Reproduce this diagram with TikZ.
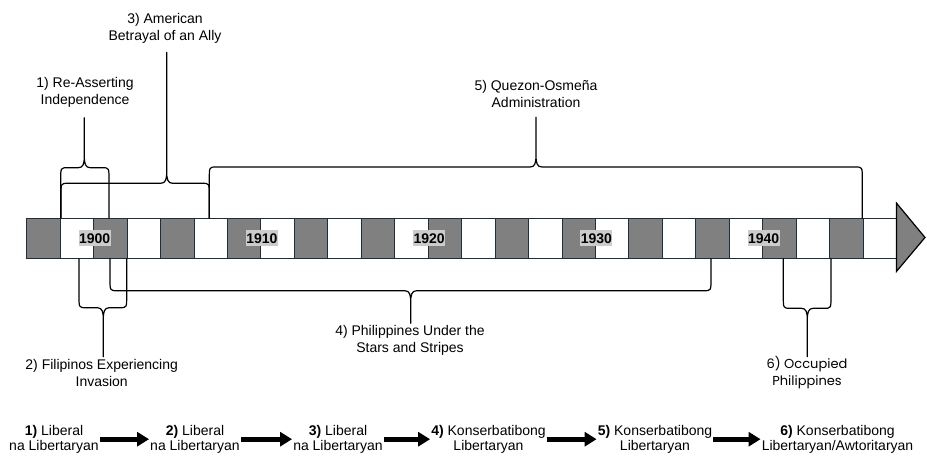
\documentclass[tikz,border=0pt]{standalone}
\usepackage{fontspec}
\setmainfont{Liberation Sans}
\newfontfamily\occfont{Poppins}
\usetikzlibrary{arrows.meta}
\definecolor{barline}{HTML}{1F2D3D}
\definecolor{barfill}{HTML}{808080}
\definecolor{yearfill}{HTML}{CCCCCC}
\newcommand{\periodbrace}[7]{%
  \draw[brace] (#1,#4) -- (#1,{#5-(#6)*12}) .. controls (#1,#5) .. ({#1+7},#5)
    -- ({#3-6},#5) .. controls ({#3-1},#5) and (#3,{#5+(#6)*4}) .. (#3,{#5+(#6)*12}) -- (#7)
    -- (#3,{#5+(#6)*12}) .. controls (#3,{#5+(#6)*4}) and ({#3+1},#5) .. ({#3+6},#5)
    -- ({#2-7},#5) .. controls (#2,#5) .. (#2,{#5-(#6)*12}) -- (#2,#4);}

\begin{document}
\begin{tikzpicture}[x=1pt,y=-1pt]
\tikzset{cell/.style={draw=barline, line width=0.8pt, minimum width=33.45pt, minimum height=40pt, inner sep=0pt, outer sep=0pt}}
\tikzset{year/.style={fill=yearfill, font=\fontsize{14}{17}\selectfont\bfseries, inner xsep=0.5pt, inner ysep=3pt, text height=10pt, text depth=0pt}}
\tikzset{period/.style={align=center, font=\fontsize{14}{17}\selectfont}}
\tikzset{stance/.style={align=center, font=\fontsize{14}{15}\selectfont, inner sep=1pt}}
\tikzset{brace/.style={line width=1.2pt, line join=round}}
\tikzset{stancearrow/.style={line width=5pt, -{Triangle[length=12pt,width=14pt]}}}
\useasboundingbox (0,0) rectangle (927,456);
\foreach \i in {0,2,...,24} \node[cell, fill=barfill] (c\i) at ({43.425+33.45*\i},238.3) {};
\foreach \i in {1,3,...,25} \node[cell, fill=white] (c\i) at ({43.425+33.45*\i},238.3) {};
\foreach \yr/\k in {1900/2,1910/7,1920/12,1930/17,1940/22} \node[year] (y\yr) at ([xshift=1pt]c\k.west) {\yr};
\draw[fill=barfill, line width=1.2pt] (896.4,203) -- (925,237.5) -- (896.4,271.5) -- cycle;
\coordinate (tip1) at (84.3,117.7);
\coordinate (tip3) at (166.7,52.3);
\coordinate (tip5) at (536,117.3);
\coordinate (tip2) at (103.3,356.7);
\coordinate (tip4) at (410.7,323.3);
\coordinate (tip6) at (807.3,356.7);
\periodbrace{61}{209.3}{166.7}{218.3}{183.3}{-1}{tip3}
\periodbrace{60.7}{109}{84.3}{218.3}{167.7}{-1}{tip1}
\periodbrace{209.3}{862.3}{536}{218.3}{167}{-1}{tip5}
\periodbrace{110}{711}{410.7}{258.3}{290.7}{1}{tip4}
\periodbrace{79}{126.7}{103.3}{258.3}{307.7}{1}{tip2}
\periodbrace{783.3}{831}{807.3}{258.3}{308.3}{1}{tip6}
\node[period] (lab1) at (85,92.4) {1) Re-Asserting\\Independence};
\node[period] (lab3) at (165,27.9) {3) American\\Betrayal of an Ally};
\node[period] (lab5) at (536,93.7) {5) Quezon-Osmeña\\Administration};
\node[period] (lab2) at (101.7,373.4) {2) Filipinos Experiencing\\Invasion};
\node[period] (lab4) at (410,340) {4) Philippines Under the\\Stars and Stripes};
\node[period, font=\occfont\fontsize{13}{17}\selectfont] (lab6) at (807,372.7) {6) Occupied\\Philippines};
\node[stance] (s1) at (54,439.2) {\textbf{1)} Liberal\\na Libertaryan};
\node[stance] (s2) at (195,439.2) {\textbf{2)} Liberal\\na Libertaryan};
\node[stance] (s3) at (338,439.2) {\textbf{3)} Liberal\\na Libertaryan};
\node[stance] (s4) at (488.5,439.2) {\textbf{4)} Konserbatibong\\Libertaryan};
\node[stance] (s5) at (655,439.2) {\textbf{5)} Konserbatibong\\Libertaryan};
\node[stance] (s6) at (837.5,439.2) {\textbf{6)} Konserbatibong\\Libertaryan/Awtoritaryan};
\draw[stancearrow] (s1) -- (s2);
\draw[stancearrow] (s2) -- (s3);
\draw[stancearrow] (s3) -- (s4);
\draw[stancearrow] (s4) -- (s5);
\draw[stancearrow] (s5) -- (s6);
\end{tikzpicture}
\end{document}
